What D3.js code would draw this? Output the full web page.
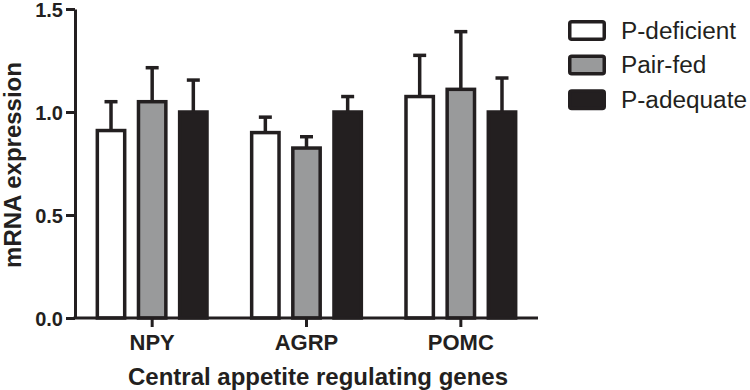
<!DOCTYPE html>
<html>
<head>
<meta charset="utf-8">
<script src="https://cdn.jsdelivr.net/npm/d3@7"></script>
<style>
  body { margin: 0; background: #fff; }
  text { font-family: "Liberation Sans", Arial, sans-serif; fill: #231f20; }
</style>
</head>
<body>
<svg width="750" height="390"></svg>
<script>
const genes = ['NPY', 'AGRP', 'POMC'];
const groups = ['P-deficient', 'Pair-fed', 'P-adequate'];
// mean values, per gene, in group order
const means = [
  [0.91, 1.05, 1.00],
  [0.90, 0.825, 1.00],
  [1.075, 1.11, 1.00]
];
// upper error (SEM) values
const errs = [
  [0.14, 0.165, 0.155],
  [0.075, 0.055, 0.075],
  [0.20, 0.28, 0.165]
];
const yTicks = [0, 0.5, 1.0, 1.5];

const ink = '#231f20';
const fills = {'P-deficient': '#fff', 'Pair-fed': '#999a9b', 'P-adequate': ink};

const svg = d3.select('svg');

const x0 = d3.scaleBand().domain(genes).range([75, 538]);
const x1 = d3.scaleBand().domain(groups)
    .range([0, x0.bandwidth()])
    .paddingInner(0.25).paddingOuter(0.5);
const y = d3.scaleLinear().domain([0, 1.5]).range([318, 9]);

// Bars
const rows = genes.flatMap((g, i) => groups.map((s, j) => ({gene: g, group: s, v: means[i][j], e: errs[i][j]})));

const bars = svg.append('g');
bars.selectAll('rect').data(rows)
  .join('rect')
    .attr('x', d => x0(d.gene) + x1(d.group) + 1.75)
    .attr('y', d => y(d.v))
    .attr('width', x1.bandwidth() - 3.5)
    .attr('height', d => y(0) - y(d.v))
    .attr('fill', d => fills[d.group])
    .attr('stroke', ink)
    .attr('stroke-width', 3.5);

// Error bars (upper only)
const errG = svg.append('g').attr('stroke', ink).attr('stroke-width', 3.5);
const cx = d => x0(d.gene) + x1(d.group) + x1.bandwidth() / 2;
errG.selectAll('line.v').data(rows)
  .join('line').attr('class', 'v')
    .attr('x1', cx).attr('x2', cx)
    .attr('y1', d => y(d.v))
    .attr('y2', d => y(d.v + d.e));
errG.selectAll('line.c').data(rows)
  .join('line').attr('class', 'c')
    .attr('x1', d => cx(d) - 6.5).attr('x2', d => cx(d) + 6.5)
    .attr('y1', d => y(d.v + d.e))
    .attr('y2', d => y(d.v + d.e));

// Y axis
const yAxis = svg.append('g')
    .attr('transform', 'translate(75,0)')
    .call(d3.axisLeft(y).tickValues(yTicks).tickFormat(d3.format('.1f')).tickSize(9).tickSizeOuter(0));
yAxis.select('.domain').attr('stroke', ink).attr('stroke-width', 3);
yAxis.selectAll('.tick line').attr('stroke', ink).attr('stroke-width', 3);
yAxis.selectAll('.tick text')
    .attr('x', -12)
    .attr('dy', '0.36em')
    .style('font-size', '20px').style('font-weight', 'bold');

// X axis
const xAxis = svg.append('g')
    .attr('transform', 'translate(0,318)')
    .call(d3.axisBottom(x0).tickSize(9).tickSizeOuter(0));
xAxis.select('.domain').attr('stroke', ink).attr('stroke-width', 3)
    .attr('d', 'M73.5,0H538');
xAxis.selectAll('.tick line').attr('stroke', ink).attr('stroke-width', 3);
xAxis.selectAll('.tick text')
    .attr('y', 32).attr('dy', 0)
    .style('font-size', '22px').style('font-weight', 'bold');

// Axis titles
svg.append('text')
    .attr('transform', 'translate(21,165) rotate(-90)')
    .attr('text-anchor', 'middle')
    .style('font-size', '24px').style('font-weight', 'bold')
    .text('mRNA expression');
svg.append('text')
    .attr('x', 318).attr('y', 385)
    .attr('text-anchor', 'middle')
    .style('font-size', '24px').style('font-weight', 'bold')
    .text('Central appetite regulating genes');

// Legend
const legend = svg.append('g').attr('transform', 'translate(568,20)');
const li = legend.selectAll('g').data(groups)
  .join('g').attr('transform', (d, i) => `translate(0,${i * 34.6})`);
li.append('rect')
    .attr('x', 1.75).attr('y', 1.75)
    .attr('width', 34.5).attr('height', 17.5).attr('rx', 2)
    .attr('fill', d => fills[d])
    .attr('stroke', ink).attr('stroke-width', 3.5);
const legText = li.append('text')
    .attr('x', 53).attr('y', 18.5)
    .style('font-size', '23px')
    .text(d => d);
// the original face is a little wider than Liberation Sans; stretch to fit
const longest = legText.filter((d, i) => i === 2).node().getComputedTextLength();
const k = 126 / longest;
legText.each(function () {
  d3.select(this)
      .attr('textLength', this.getComputedTextLength() * k)
      .attr('lengthAdjust', 'spacingAndGlyphs');
});
</script>
</body>
</html>
